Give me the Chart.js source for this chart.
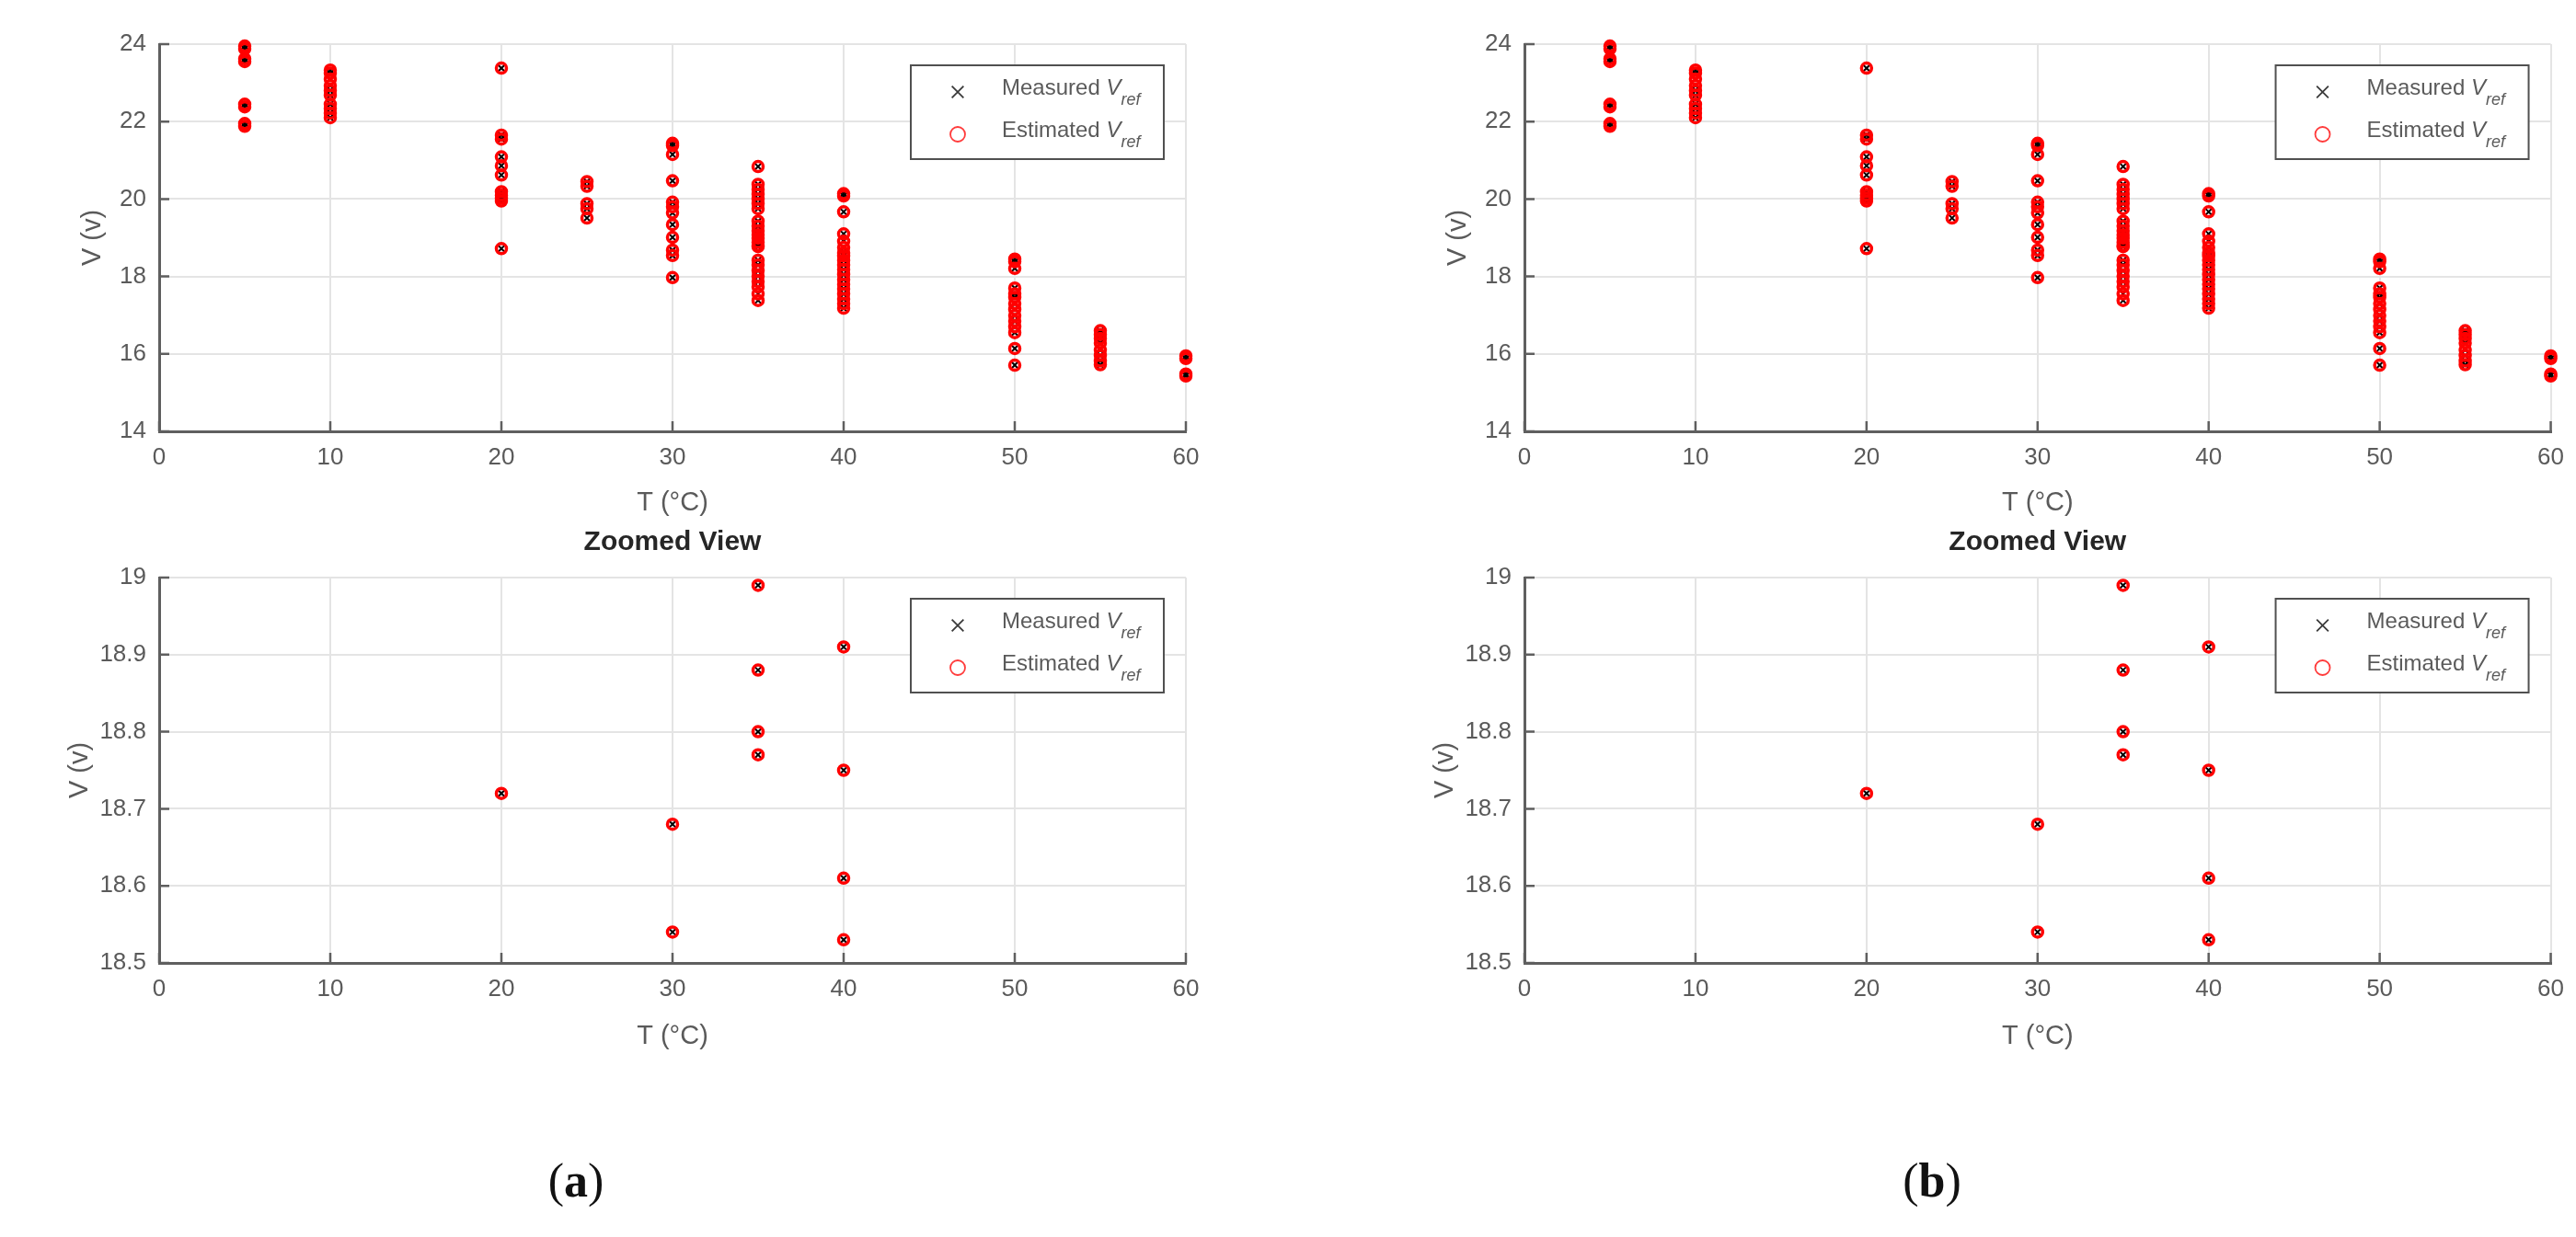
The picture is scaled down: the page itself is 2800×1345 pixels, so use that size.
<!DOCTYPE html>
<html>
<head>
<meta charset="utf-8">
<title>Measured vs estimated Vref</title>
<script src="https://cdn.jsdelivr.net/npm/chart.js@4.4.0/dist/chart.umd.min.js"></script>
<style>
  html, body { margin: 0; padding: 0; background: #fff; }
  body { width: 2800px; height: 1345px; position: relative; overflow: hidden; }
  canvas { position: absolute; }
  .cap {
    position: absolute;
    font-family: "Liberation Serif", "DejaVu Serif", serif;
    font-size: 52px;
    color: #111;
    transform: translate(-50%, -50%);
    white-space: nowrap;
  }
  .cap b { font-weight: bold; }
</style>
</head>
<body>
<canvas id="fullA" width="1330" height="580" style="left:0;top:0"></canvas>
<canvas id="zoomA" width="1330" height="620" style="left:0;top:540px"></canvas>
<canvas id="fullB" width="1316" height="580" style="left:1484px;top:0"></canvas>
<canvas id="zoomB" width="1316" height="620" style="left:1484px;top:540px"></canvas>
<div class="cap" style="left:626px;top:1283px">(<b>a</b>)</div>
<div class="cap" style="left:2100px;top:1283px">(<b>b</b>)</div>

<script>
// temperatures (°C) at which Vref was recorded
var tempsC = [5, 10, 20, 25, 30, 35, 40, 50, 55, 60];

// measured Vref (V), one list per temperature above
var measuredV = [
    [23.95, 23.88, 23.62, 23.55, 22.45, 22.38, 21.95, 21.88],
    [23.33, 23.25, 23.1, 22.93, 22.8, 22.68, 22.45, 22.34, 22.22, 22.1],
    [23.38, 21.65, 21.55, 21.09, 20.86, 20.62, 20.19, 20.1, 20.02, 19.95, 18.72],
    [20.45, 20.33, 19.88, 19.75, 19.51],
    [21.44, 21.38, 21.15, 20.47, 19.92, 19.8, 19.64, 19.34, 19.01, 18.68, 18.54, 17.97],
    [20.84, 20.38, 20.25, 20.12, 20.0, 19.88, 19.75, 19.43, 19.3, 19.18, 19.08, 18.99, 18.88, 18.8, 18.77, 18.42, 18.3, 18.15, 18.01, 17.87, 17.73, 17.55, 17.38],
    [20.14, 20.08, 19.67, 19.1, 18.91, 18.75, 18.61, 18.53, 18.42, 18.3, 18.18, 18.05, 17.92, 17.8, 17.68, 17.55, 17.42, 17.3, 17.18],
    [18.45, 18.38, 18.21, 17.7, 17.55, 17.46, 17.3, 17.15, 16.99, 16.85, 16.7, 16.55, 16.14, 15.71],
    [16.6, 16.5, 16.4, 16.28, 16.1, 15.96, 15.82, 15.72],
    [15.95, 15.88, 15.48, 15.43]
];

// estimated Vref (V), same layout (sits on top of the measured marks)
var estimatedV = [
    [23.95, 23.88, 23.62, 23.55, 22.45, 22.38, 21.95, 21.88],
    [23.33, 23.25, 23.1, 22.93, 22.8, 22.68, 22.45, 22.34, 22.22, 22.1],
    [23.38, 21.65, 21.55, 21.09, 20.86, 20.62, 20.19, 20.1, 20.02, 19.95, 18.72],
    [20.45, 20.33, 19.88, 19.75, 19.51],
    [21.44, 21.38, 21.15, 20.47, 19.92, 19.8, 19.64, 19.34, 19.01, 18.68, 18.54, 17.97],
    [20.84, 20.38, 20.25, 20.12, 20.0, 19.88, 19.75, 19.43, 19.3, 19.18, 19.08, 18.99, 18.88, 18.8, 18.77, 18.42, 18.3, 18.15, 18.01, 17.87, 17.73, 17.55, 17.38],
    [20.14, 20.08, 19.67, 19.1, 18.91, 18.75, 18.61, 18.53, 18.42, 18.3, 18.18, 18.05, 17.92, 17.8, 17.68, 17.55, 17.42, 17.3, 17.18],
    [18.45, 18.38, 18.21, 17.7, 17.55, 17.46, 17.3, 17.15, 16.99, 16.85, 16.7, 16.55, 16.14, 15.71],
    [16.6, 16.5, 16.4, 16.28, 16.1, 15.96, 15.82, 15.72],
    [15.95, 15.88, 15.48, 15.43]
];

// axis ticks
var xTicks = [0, 10, 20, 30, 40, 50, 60];
var xTickLabels = ["0", "10", "20", "30", "40", "50", "60"];
var yTicksFull = [14, 16, 18, 20, 22, 24];
var yTickLabelsFull = ["14", "16", "18", "20", "22", "24"];
var yTicksZoom = [18.5, 18.6, 18.7, 18.8, 18.9, 19];
var yTickLabelsZoom = ["18.5", "18.6", "18.7", "18.8", "18.9", "19"];

var legendNames = ["Measured ", "Estimated "];
var zoomTitle = "Zoomed View";
var xTitle = "T (°C)";
var yTitle = "V (v)";

var FONT = '"Liberation Sans", Arial, Helvetica, sans-serif';
var TEXT = "#5a5a5a";
var AXIS = "#5f5f5f";
var GRID = "#e4e4e4";

Chart.defaults.font.family = FONT;
Chart.defaults.color = TEXT;

function toPoints(groups) {
    var pts = [];
    tempsC.forEach(function (t, i) {
        groups[i].forEach(function (v) {
            pts.push({ x: t, y: v });
        });
    });
    return pts;
}

// matlab look: inward ticks, boxed legend with subscripts, axes title
var matlabBits = {
    id: "matlabBits",
    beforeDatasetsDraw: function (chart) {
        var ctx = chart.ctx;
        var a = chart.chartArea;
        var xs = chart.scales.x, ys = chart.scales.y;
        ctx.save();
        ctx.strokeStyle = AXIS;
        ctx.lineWidth = 2.5;
        ctx.beginPath();
        xs.ticks.forEach(function (t) {
            var px = xs.getPixelForValue(t.value);
            ctx.moveTo(px, a.bottom);
            ctx.lineTo(px, a.bottom - 11);
        });
        ys.ticks.forEach(function (t) {
            var py = ys.getPixelForValue(t.value);
            ctx.moveTo(a.left, py);
            ctx.lineTo(a.left + 11, py);
        });
        ctx.stroke();
        ctx.restore();
    },
    afterDraw: function (chart, args, opts) {
        var ctx = chart.ctx;
        var a = chart.chartArea;
        ctx.save();

        // legend box
        var bw = 275, bh = 102;
        var bx = a.right - 24 - bw, by = a.top + 23;
        ctx.fillStyle = "#ffffff";
        ctx.fillRect(bx, by, bw, bh);
        ctx.strokeStyle = "#505050";
        ctx.lineWidth = 2;
        ctx.strokeRect(bx, by, bw, bh);

        var rows = [by + 29, by + 75];
        ctx.lineWidth = 1.8;
        ctx.strokeStyle = "#3a3a3a";
        Chart.helpers.drawPoint(ctx, { pointStyle: "crossRot", radius: 9, borderWidth: 1.8 }, bx + 51, rows[0]);
        ctx.strokeStyle = "#ff3b3b";
        Chart.helpers.drawPoint(ctx, { pointStyle: "circle", radius: 8, borderWidth: 1.8 }, bx + 51, rows[1]);

        ctx.fillStyle = TEXT;
        ctx.textBaseline = "alphabetic";
        ctx.textAlign = "left";
        legendNames.forEach(function (name, i) {
            var x = bx + 99, y = rows[i] + 3;
            ctx.font = "24px " + FONT;
            ctx.fillText(name, x, y);
            x += ctx.measureText(name).width;
            ctx.font = "italic 24px " + FONT;
            ctx.fillText("V", x, y);
            x += ctx.measureText("V").width;
            ctx.font = "italic 18px " + FONT;
            ctx.fillText("ref", x, y + 11);
        });

        // axes title
        if (opts.title) {
            ctx.font = "bold 30px " + FONT;
            ctx.fillStyle = "#262626";
            ctx.textAlign = "center";
            ctx.textBaseline = "middle";
            ctx.fillText(opts.title, (a.left + a.right) / 2, a.top - 38);
        }
        ctx.restore();
    }
};

function makeChart(id, yMin, yMax, yTicks, yLabels, zoomed, rightPad) {
    var ctx = document.getElementById(id).getContext("2d");
    return new Chart(ctx, {
        type: "scatter",
        data: {
            datasets: [
                {
                    label: "Measured Vref",
                    data: toPoints(measuredV),
                    pointStyle: "crossRot",
                    pointRadius: 4.5,
                    pointBorderWidth: 2,
                    borderColor: "#000000",
                    backgroundColor: "#000000",
                    clip: zoomed ? 0 : false,
                    order: 2
                },
                {
                    label: "Estimated Vref",
                    data: toPoints(estimatedV),
                    pointStyle: "circle",
                    pointRadius: 5.5,
                    pointBorderWidth: 3.5,
                    borderColor: "#ff0000",
                    backgroundColor: "rgba(0,0,0,0)",
                    clip: zoomed ? 0 : false,
                    order: 1
                }
            ]
        },
        options: {
            responsive: false,
            animation: false,
            events: [],
            layout: {
                padding: { left: 60, top: zoomed ? 88 : 48, right: rightPad, bottom: zoomed ? 13 : 11 }
            },
            plugins: {
                legend: { display: false },
                tooltip: { enabled: false },
                matlabBits: { title: zoomed ? zoomTitle : null }
            },
            scales: {
                x: {
                    type: "linear",
                    min: 0,
                    max: 60,
                    afterBuildTicks: function (s) {
                        s.ticks = xTicks.map(function (v) { return { value: v }; });
                    },
                    afterFit: function (s) { s.height = 100; },
                    ticks: {
                        padding: 13,
                        font: { size: 26, lineHeight: 1.2 },
                        color: TEXT,
                        maxRotation: 0,
                        callback: function (v, i) { return xTickLabels[i]; }
                    },
                    grid: { color: GRID, lineWidth: 2, drawTicks: false },
                    border: { display: true, color: AXIS, width: 3 },
                    title: {
                        display: true,
                        text: xTitle,
                        font: { size: 29, lineHeight: 1.2 },
                        color: TEXT,
                        padding: { top: 0, bottom: zoomed ? 3 : 5 }
                    }
                },
                y: {
                    type: "linear",
                    min: yMin,
                    max: yMax,
                    afterBuildTicks: function (s) {
                        s.ticks = yTicks.map(function (v) { return { value: v }; });
                    },
                    afterFit: function (s) { s.width = 113; },
                    ticks: {
                        padding: 14,
                        font: { size: 26, lineHeight: 1.2 },
                        color: TEXT,
                        callback: function (v, i) { return yLabels[i]; }
                    },
                    grid: { color: GRID, lineWidth: 2, drawTicks: false },
                    border: { display: true, color: AXIS, width: 3 },
                    title: {
                        display: true,
                        text: yTitle,
                        font: { size: 29, lineHeight: 1.2 },
                        color: TEXT,
                        padding: { top: zoomed ? 10 : 24, bottom: 0 }
                    }
                }
            }
        },
        plugins: [matlabBits]
    });
}

makeChart("fullA", 14, 24, yTicksFull, yTickLabelsFull, false, 41);
makeChart("zoomA", 18.5, 19, yTicksZoom, yTickLabelsZoom, true, 41);
makeChart("fullB", 14, 24, yTicksFull, yTickLabelsFull, false, 27);
makeChart("zoomB", 18.5, 19, yTicksZoom, yTickLabelsZoom, true, 27);
</script>
</body>
</html>
